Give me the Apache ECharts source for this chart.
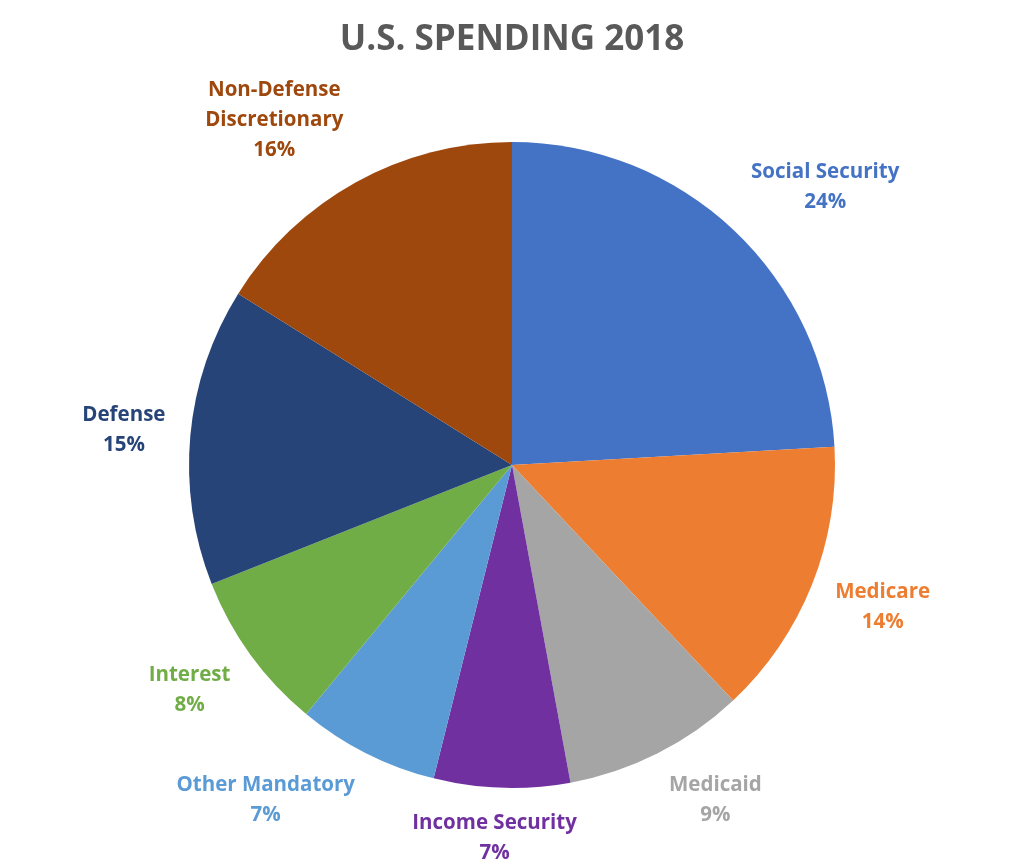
<!DOCTYPE html>
<html>
<head>
<meta charset="utf-8">
<script src="https://cdn.jsdelivr.net/npm/echarts@6/dist/echarts.min.js"></script>
<style>
html,body{margin:0;padding:0;background:#fff;}
#main{width:1024px;height:865px;}
</style>
</head>
<body>
<div id="main"></div>
<script>
const categories = ['Social Security', 'Medicare', 'Medicaid', 'Income Security', 'Other Mandatory', 'Interest', 'Defense', 'Non-Defense\nDiscretionary'];
const values = [24.1, 13.9, 9.1, 6.8, 7.1, 8.0, 14.9, 16.1];
const colors = ['#4472C4', '#ED7D31', '#A5A5A5', '#7030A0', '#5B9BD5', '#70AD47', '#264478', '#9E480E'];
const titleText = 'U.S. SPENDING 2018';

const CENTER_Y = 465;
const RADIUS = 323;
const GAP = 25;

const chart = echarts.init(document.getElementById('main'), null, {renderer: 'canvas'});

const data = categories.map((c, i) => ({
  name: c,
  value: values[i],
  itemStyle: {color: colors[i]},
  label: {color: colors[i]}
}));

function clamp1(v) { return Math.max(-1, Math.min(1, v)); }

const option = {
  backgroundColor: '#ffffff',
  animation: false,
  title: {
    text: titleText,
    left: 'center',
    top: 18,
    textStyle: {
      fontFamily: 'Open Sans',
      fontWeight: 'bold',
      fontSize: 35,
      color: '#595959'
    }
  },
  series: [{
    type: 'pie',
    center: ['50%', CENTER_Y],
    radius: RADIUS,
    startAngle: 90,
    clockwise: true,
    avoidLabelOverlap: false,
    data: data,
    itemStyle: {borderWidth: 0},
    label: {
      show: true,
      position: 'outside',
      alignTo: 'none',
      distanceToLabelLine: 0,
      fontFamily: 'Open Sans',
      fontWeight: 'bold',
      fontSize: 20.5,
      lineHeight: 30,
      formatter: function (p) {
        return p.name + '\n' + Math.round(p.percent) + '%';
      }
    },
    labelLine: {show: false, length: GAP, length2: 0},
    labelLayout: function (p) {
      const r = p.labelRect;
      const cx = chart.getWidth() / 2;
      const cy = CENTER_Y;
      const ax = p.align === 'right' ? r.x + r.width : (p.align === 'center' ? r.x + r.width / 2 : r.x);
      const ay = r.y + r.height / 2;
      let dx = ax - cx, dy = ay - cy;
      const len = Math.sqrt(dx * dx + dy * dy) || 1;
      dx /= len; dy /= len;
      const w = r.width, h = r.height - 10;
      return {
        x: ax + clamp1(dx * 2.5) * w / 2,
        y: ay + clamp1(dy * 1.4) * h / 2,
        align: 'center',
        verticalAlign: 'middle'
      };
    }
  }]
};
chart.setOption(option);
</script>
</body>
</html>
